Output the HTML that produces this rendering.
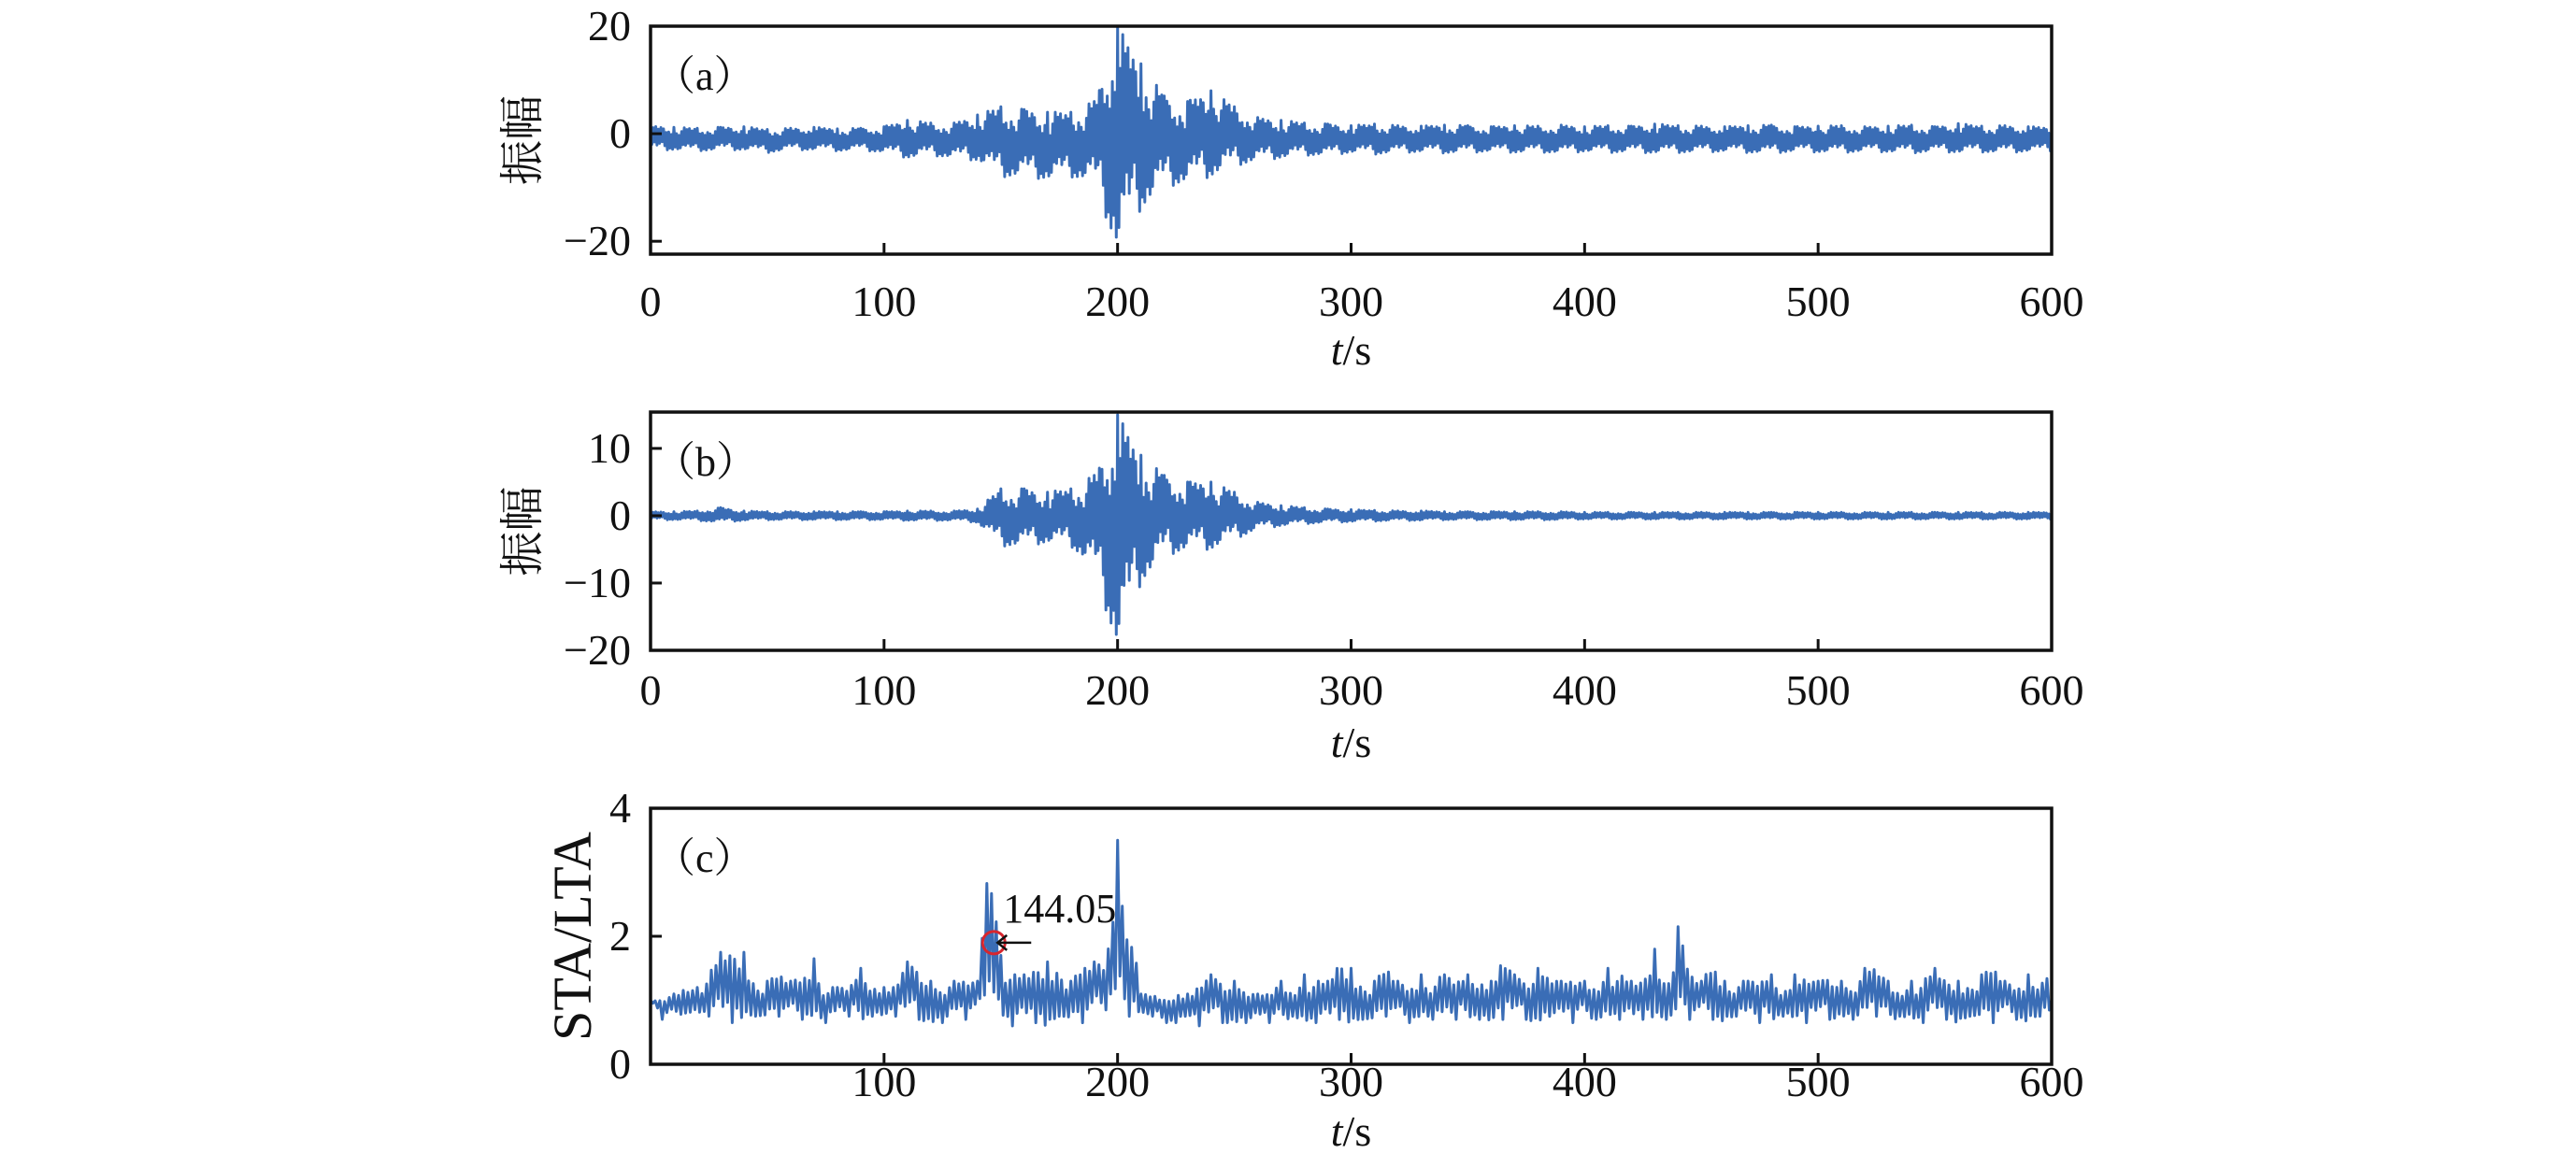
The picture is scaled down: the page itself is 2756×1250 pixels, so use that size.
<!DOCTYPE html>
<html><head><meta charset="utf-8"><style>
html,body{margin:0;padding:0;background:#fff;}
svg text{font-family:"Liberation Serif","Noto Serif CJK SC",serif;fill:#111;}
</style></head><body>
<svg id="fig" width="2756" height="1245" viewBox="0 0 2756 1245" xmlns="http://www.w3.org/2000/svg"></svg>
<script>
// ---- data ----
const aTimes=[0,10,20,30,40,50,60,70,80,90,100,110,120,130,140,150,160,170,180,190,200,210,220,230,240,250,260,270,280,290,300,310,320,330,340,350,360,370,380,390,400,410,420,430,440,450,460,470,480,490,500,510,520,530,540,550,560,570,580,590,600];
const aUpper=[1.5,1.2,1.0,1.2,1.3,0.8,1.0,1.2,0.9,1.0,1.3,2.5,2.0,2.0,3.5,5,4.5,4,4,6,20,13,7,6,8,5,3,2.5,2,1.8,1.5,1.8,1.5,1.4,1.6,1.5,1.3,1.5,1.4,1.6,1.3,1.5,1.4,1.8,1.5,1.4,1.3,1.5,1.6,1.3,1.4,1.5,1.3,1.4,1.6,1.3,1.9,1.4,1.5,1.3,1.2];
const aLower=[-3,-3,-3.2,-3,-3,-3.5,-3,-3,-3.2,-3,-3.5,-4.5,-4,-4.5,-5,-8,-8,-8.5,-8,-9,-22,-14,-10,-9,-8,-6,-5,-4.5,-4,-4,-3.5,-3.8,-3.5,-3.4,-3.6,-3.5,-3.3,-3.5,-3.4,-3.6,-3.3,-3.5,-3.4,-3.6,-3.5,-3.4,-3.3,-3.5,-3.6,-3.3,-3.4,-3.5,-3.3,-3.4,-3.6,-3.3,-3.5,-3.4,-3.5,-3.3,-3.2];
const bTimes=aTimes;
const bUpper=[0.6,0.6,0.7,1.2,0.7,0.6,0.6,0.6,0.6,0.6,0.6,0.7,0.7,0.7,1.0,4,4,3.5,4,6,15,9,6,5,5,3.5,2,1.5,1.2,1.0,0.9,0.8,0.7,0.7,0.6,0.6,0.6,0.6,0.6,0.6,0.5,0.5,0.5,0.5,0.5,0.5,0.5,0.5,0.5,0.5,0.5,0.5,0.5,0.5,0.5,0.5,0.5,0.5,0.5,0.5,0.5];
const bLower=[-0.6,-0.6,-0.7,-1.0,-0.7,-0.6,-0.6,-0.6,-0.6,-0.6,-0.6,-0.7,-0.7,-0.7,-1.0,-4.5,-4.5,-4,-4.5,-8,-20,-10,-6,-5,-5,-3.5,-2,-1.5,-1.2,-1.0,-0.9,-0.8,-0.7,-0.7,-0.6,-0.6,-0.6,-0.6,-0.6,-0.6,-0.5,-0.5,-0.5,-0.5,-0.5,-0.5,-0.5,-0.5,-0.5,-0.5,-0.5,-0.5,-0.5,-0.5,-0.5,-0.5,-0.5,-0.5,-0.5,-0.5,-0.5];
const cTimes=[0,5,10,15,20,25,30,35,40,45,50,55,60,65,70,75,80,85,90,95,100,105,110,115,120,125,130,135,140,145,150,155,160,165,170,175,180,185,190,195,200,205,210,215,220,225,230,235,240,245,250,255,260,265,270,275,280,285,290,295,300,305,310,315,320,325,330,335,340,345,350,355,360,365,370,375,380,385,390,395,400,405,410,415,420,425,430,435,440,445,450,455,460,465,470,475,480,485,490,495,500,505,510,515,520,525,530,535,540,545,550,555,560,565,570,575,580,585,590,595,600];
const cUpper=[1.0,1.0,1.1,1.3,1.2,1.4,1.75,1.75,1.75,1.3,1.3,1.4,1.3,1.5,1.65,1.2,1.2,1.2,1.5,1.3,1.2,1.2,1.6,1.5,1.3,1.3,1.3,1.3,1.3,3.8,1.7,1.4,1.4,1.5,1.6,1.6,1.3,1.5,1.6,1.7,3.5,2.3,1.1,1.1,1.0,1.2,1.1,1.2,1.4,1.3,1.3,1.3,1.1,1.1,1.3,1.2,1.4,1.3,1.3,1.6,1.5,1.3,1.3,1.5,1.3,1.3,1.4,1.3,1.4,1.3,1.4,1.4,1.3,1.6,1.4,1.3,1.5,1.6,1.3,1.3,1.3,1.3,1.5,1.4,1.3,1.3,1.8,1.3,2.15,1.4,1.3,1.75,1.3,1.3,1.3,1.3,1.4,1.2,1.4,1.3,1.3,1.4,1.3,1.3,1.5,1.5,1.3,1.2,1.3,1.3,1.5,1.3,1.3,1.3,1.4,1.5,1.3,1.3,1.4,1.4,1.3];
const cLower=[1.0,0.7,0.75,0.8,0.8,0.75,0.7,0.65,0.75,0.75,0.7,0.75,0.75,0.7,0.75,0.65,0.75,0.75,0.7,0.75,0.75,0.75,0.75,0.7,0.65,0.65,0.75,0.7,0.75,1.3,0.75,0.6,0.65,0.65,0.6,0.75,0.65,0.65,0.75,0.85,1.2,0.75,0.65,0.75,0.65,0.65,0.75,0.6,0.7,0.65,0.65,0.65,0.7,0.65,0.65,0.75,0.65,0.65,0.65,0.7,0.65,0.7,0.65,0.75,0.7,0.65,0.75,0.7,0.65,0.7,0.75,0.7,0.65,0.7,0.75,0.7,0.65,0.75,0.7,0.65,0.75,0.7,0.75,0.7,0.65,0.7,0.75,0.7,0.75,0.7,0.75,0.7,0.65,0.75,0.7,0.65,0.7,0.75,0.7,0.65,0.75,0.7,0.75,0.7,0.7,0.75,0.65,0.75,0.7,0.65,0.75,0.7,0.65,0.75,0.7,0.65,0.75,0.7,0.65,0.75,0.7];
const xTicks=[0,100,200,300,400,500,600];
const aYTicks=[20,0,-20];
const bYTicks=[10,0,-10,-20];
const cYTicks=[4,2,0];
const pickTime=147, pickValue=1.9, pickLabel="144.05";

// ---- drawing ----
const NS="http://www.w3.org/2000/svg";
const svg=document.getElementById('fig');
const X0=696,X1=2195;
const xs=t=>X0+(t-0)/600*(X1-X0);
const fracs=[1,0.55,0.85,0.35,0.95,0.6,0.75,0.45,0.9,0.3,0.8,0.65,0.5];
function mk(tag,attrs,parent){const e=document.createElementNS(NS,tag);for(const k in attrs)e.setAttribute(k,attrs[k]);(parent||svg).appendChild(e);return e;}
function fmt(v){return v<0?'−'+Math.abs(v):String(v);}
function panel(id,letter,top,bot,ymax,ymin,yTicks,times,up,lo,ylab,xTickList,labY,tsY,k){
  const ys=v=>top+(ymax-v)/(ymax-ymin)*(bot-top);
  const g=mk('g',{});
  
  
  const clip=mk('clipPath',{id:'clip'+id},g);
  mk('rect',{x:X0,y:top-6,width:X1-X0,height:bot-top+6},clip);
  let pts=[];let n=0;
  for(let i=0;i<times.length-1;i++){
    for(let j=0;j<k;j++){
      const f=j/k;const t=times[i]+(times[i+1]-times[i])*f;
      const u=up[i]+(up[i+1]-up[i])*f, l=lo[i]+(lo[i+1]-lo[i])*f;
      const mid=(u+l)/2, half=(u-l)/2*(j===0?1:fracs[n%fracs.length]);
      const v=(n%2===0)?mid+half:mid-half;n++;
      pts.push(xs(t).toFixed(1)+','+ys(v).toFixed(1));
    }
  }
  pts.push(xs(times[times.length-1]).toFixed(1)+','+ys((up[up.length-1]+lo[lo.length-1])/2).toFixed(1));
  const line=mk('polyline',{points:pts.join(' '),fill:'none',stroke:'#3a6db6','stroke-width':3,'stroke-linejoin':'round','clip-path':'url(#clip'+id+')'},g);
  
  
  const frame=mk('rect',{x:X0,y:top,width:X1-X0,height:bot-top,fill:'none',stroke:'#111','stroke-width':3.5},g);
  
  
  yTicks.forEach(v=>{
    mk('line',{x1:X0,x2:X0+12,y1:ys(v),y2:ys(v),stroke:'#111','stroke-width':3},g);
    const tx=mk('text',{x:675,y:ys(v)+15,'text-anchor':'end','font-size':46},g);
    tx.textContent=fmt(v);
    
    
  });
  xTickList.forEach(v=>{
    if(v>0&&v<600)mk('line',{x1:xs(v),x2:xs(v),y1:bot,y2:bot-12,stroke:'#111','stroke-width':3},g);
    const tx=mk('text',{x:xs(v),y:labY,'text-anchor':'middle','font-size':46},g);
    tx.textContent=String(v);
    
    
  });
  const xl=mk('text',{x:(X0+X1)/2,y:tsY,'text-anchor':'middle','font-size':46},g);
  xl.innerHTML='<tspan font-style="italic">t</tspan>/s';
  
  
  const yc=(top+bot)/2;
  const yl=mk('text',{x:0,y:0,'text-anchor':'middle','font-size':ylab.size,transform:`translate(${ylab.x},${yc}) rotate(-90)`},g);
  yl.textContent=ylab.text;
  
  
  const pl=mk('text',{x:700,y:top+68,'font-size':44},g);
  pl.textContent='（'+letter+'）';
  
  
  return ys;
}
panel('a','a',28,272,20,-22.4,aYTicks,aTimes,aUpper,aLower,{x:575,text:'振幅',size:48},xTicks,338,390,18);
panel('b','b',441,696,15.4,-20,bYTicks,bTimes,bUpper,bLower,{x:575,text:'振幅',size:48},xTicks,754,810,18);
const cXTicks=xTicks.slice(1);
const ysC=panel('c','c',865,1139,4,0,cYTicks,cTimes,cUpper,cLower,{x:632,text:'STA/LTA',size:58},cXTicks,1173,1226,5);
// annotation
const px=xs(pickTime),py=ysC(pickValue);
const circ=mk('circle',{cx:px,cy:py,r:12,fill:'none',stroke:'#d7262e','stroke-width':3});


const arr=mk('line',{x1:px+40,x2:px+4,y1:py,y2:py,stroke:'#111','stroke-width':2.5});


mk('polyline',{points:`${px+14},${py-8} ${px+4},${py} ${px+14},${py+8}`,fill:'none',stroke:'#111','stroke-width':2.5});
const pt=mk('text',{x:px+10,y:py-22,'font-size':44});
pt.textContent=pickLabel;


</script>
</body></html>
